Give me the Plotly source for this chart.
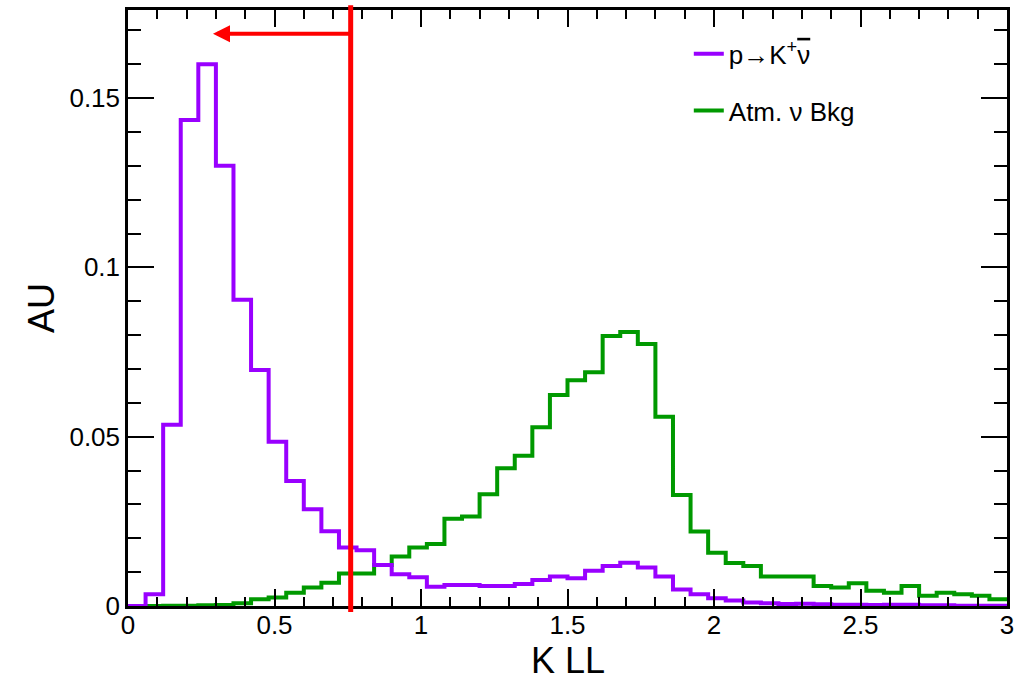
import plotly.graph_objects as go

# K LL distribution, 50 bins of width 0.06 between 0 and 3
bin_edges = [round(0.06 * k, 2) for k in range(51)]

signal_pkv = [
    0.0, 0.0035, 0.0535, 0.1435, 0.160, 0.130, 0.0904, 0.0697, 0.0485, 0.0369,
    0.0286, 0.0221, 0.0173, 0.0165, 0.0121, 0.0094, 0.0085, 0.0057, 0.0062, 0.0062,
    0.0059, 0.0059, 0.0065, 0.0077, 0.0087, 0.0082, 0.0104, 0.0118, 0.0128, 0.0114,
    0.0087, 0.0049, 0.0035, 0.0023, 0.0016, 0.0010, 0.0008, 0.0006, 0.0007, 0.0005,
    0.0004, 0.0004, 0.0003, 0.0004, 0.0004, 0.0002, 0.0002, 0.0001, 0.0001, 0.0001,
]

atm_nu_bkg = [
    0.0, 0.0, 0.0001, 0.0001, 0.0002, 0.0003, 0.0008, 0.0020, 0.0025, 0.0039,
    0.0055, 0.0069, 0.0096, 0.0096, 0.0121, 0.0146, 0.0173, 0.0183, 0.0258, 0.0264,
    0.0330, 0.0407, 0.0444, 0.0528, 0.0623, 0.0667, 0.0690, 0.0797, 0.0809, 0.0774,
    0.0559, 0.0328, 0.0220, 0.0157, 0.0127, 0.0118, 0.0087, 0.0087, 0.0087, 0.0059,
    0.0055, 0.0067, 0.0045, 0.0039, 0.0059, 0.0030, 0.0039, 0.0035, 0.0030, 0.0020,
]

series_names = ["p\u2192K<sup>+</sup><span style=\"text-decoration:overline\">\u03bd</span>",
                "Atm. \u03bd Bkg"]
series_colors = ["#9900ff", "#009900"]

x_title = "K LL"
y_title = "AU"

cut_value = 0.76          # selection cut on K LL (keep events below)
arrow_tip = 0.29
arrow_level = 0.169

x_ticks = [0, 0.5, 1, 1.5, 2, 2.5, 3]
x_tick_labels = ["0", "0.5", "1", "1.5", "2", "2.5", "3"]
y_ticks = [0, 0.05, 0.1, 0.15]
y_tick_labels = ["0", "0.05", "0.1", "0.15"]

FONT = "Liberation Sans, Arial, Helvetica, sans-serif"

fig = go.Figure()

# step outlines: repeat last bin content so the final bin reaches x = 3
# background drawn first so the signal outline sits on top
for name, vals, color, grp, rank in [
    (series_names[1], atm_nu_bkg, series_colors[1], "b", 2),
    (series_names[0], signal_pkv, series_colors[0], "a", 1),
]:
    fig.add_trace(go.Scatter(
        x=bin_edges,
        y=vals + [vals[-1]],
        mode="lines",
        line=dict(shape="hv", color=color, width=4),
        name=name,
        legendgroup=grp,
        legendrank=rank,
        hoverinfo="skip",
    ))

# cut line
fig.add_shape(
    type="line", xref="x", yref="paper",
    x0=cut_value, x1=cut_value, y0=-0.010, y1=1.008,
    line=dict(color="#ff0000", width=5), layer="above",
)
# arrow pointing to the accepted region
fig.add_annotation(
    x=arrow_tip, y=arrow_level, ax=cut_value, ay=arrow_level,
    xref="x", yref="y", axref="x", ayref="y",
    showarrow=True, arrowhead=2, arrowsize=0.85, arrowwidth=4,
    arrowcolor="#ff0000", text="",
)

# axis titles
fig.add_annotation(
    text=x_title, xref="paper", yref="paper", x=0.5, y=-0.092,
    xanchor="center", yanchor="middle", showarrow=False,
    font=dict(family=FONT, size=36, color="black"),
)
fig.add_annotation(
    text=y_title, xref="paper", yref="paper", x=-0.099, y=0.5,
    xanchor="center", yanchor="middle", showarrow=False, textangle=-90,
    font=dict(family=FONT, size=36, color="black"),
)

axis_common = dict(
    showline=True, linecolor="black", linewidth=2.5, mirror="allticks",
    ticks="inside", tickcolor="black", tickwidth=1.5,
    showgrid=False, zeroline=False, automargin=False,
    tickfont=dict(family=FONT, size=26, color="black"),
)

fig.update_xaxes(
    range=[0, 3], tickvals=x_ticks, ticktext=x_tick_labels, ticklen=17,
    minor=dict(dtick=0.1, ticklen=9, ticks="inside", tickcolor="black", tickwidth=1.5),
    ticklabelstandoff=-6,
    **axis_common,
)
fig.update_yaxes(
    range=[0, 0.176], tickvals=y_ticks, ticktext=y_tick_labels, ticklen=26,
    minor=dict(dtick=0.01, ticklen=13, ticks="inside", tickcolor="black", tickwidth=1.5),
    **axis_common,
)

fig.update_layout(
    width=1025, height=676,
    margin=dict(l=128, r=18, t=10, b=70),
    paper_bgcolor="white", plot_bgcolor="white",
    font=dict(family=FONT, color="black"),
    showlegend=True,
    legend=dict(
        x=0.638, y=0.966, xanchor="left", yanchor="top",
        traceorder="grouped", tracegroupgap=20,
        font=dict(family=FONT, size=26, color="black"),
        bgcolor="rgba(0,0,0,0)",
    ),
)

fig.write_html("out.html")
